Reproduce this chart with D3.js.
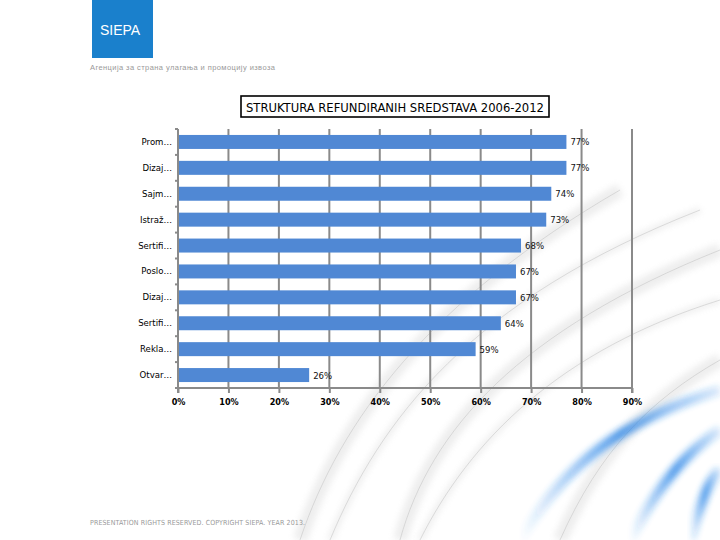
<!DOCTYPE html>
<html><head><meta charset="utf-8">
<script src="https://cdn.jsdelivr.net/npm/d3@7"></script>
<style>html,body{margin:0;padding:0;background:#fff;}svg{display:block;}</style>
</head><body>
<svg id="c" width="720" height="540"></svg>
<script>
const categories = ["Prom…","Dizaj…","Sajm…","Istraž…","Sertifi…","Poslo…","Dizaj…","Sertifi…","Rekla…","Otvar…"];
const values = [77,77,74,73,68,67,67,64,59,26];
const xTicks = [0,10,20,30,40,50,60,70,80,90];
const title = "STRUKTURA REFUNDIRANIH SREDSTAVA 2006-2012";
const subtitle = "Агенција за стрaна улагања и промоцију извоза";
const footer = "PRESENTATION RIGHTS RESERVED. COPYRIGHT SIEPA. YEAR 2013.";

(function(){
const svg = d3.select("#c");
const defs = svg.append("defs");
const bl = defs.append("linearGradient").attr("id","blueG").attr("x1","0").attr("y1","0").attr("x2","1").attr("y2","0");
bl.append("stop").attr("offset","0").attr("stop-color","#1e7fe6").attr("stop-opacity",0);
bl.append("stop").attr("offset","0.5").attr("stop-color","#1e7fe6").attr("stop-opacity",0.9);
bl.append("stop").attr("offset","1").attr("stop-color","#1e7fe6").attr("stop-opacity",0.2);
defs.append("filter").attr("id","blur").append("feGaussianBlur").attr("stdDeviation",3);

// decorative background swooshes
const deco = svg.append("g");
const grayPaths = [
  "M300,540 C340,420 430,300 620,190",
  "M330,540 C380,420 470,300 700,210",
  "M400,540 C430,430 520,330 720,250",
  "M420,540 C470,440 560,350 720,300",
  "M560,540 C600,450 650,400 720,360"
];
grayPaths.forEach((p,i)=>{
  deco.append("path").attr("d",p).attr("fill","none").attr("stroke","#cfcfcf")
    .attr("stroke-width", i%2===0?14:6).attr("opacity",0.35).attr("filter","url(#blur)");
  deco.append("path").attr("d",p).attr("fill","none").attr("stroke","#bbb")
    .attr("stroke-width",0.8).attr("opacity",0.6);
});
["M520,540 C560,470 620,420 720,390","M630,540 C660,480 690,450 720,430","M690,540 C700,500 710,480 720,470"].forEach(p=>{
  deco.append("path").attr("d",p).attr("fill","none").attr("stroke","url(#blueG)")
    .attr("stroke-width",10).attr("opacity",0.85).attr("filter","url(#blur)");
});

// logo
svg.append("rect").attr("x",92).attr("y",0).attr("width",61).attr("height",58).attr("fill","#1a80cc");
svg.append("text").attr("x",100).attr("y",35).attr("fill","#fff")
  .style("font-family","Liberation Sans, Arial, sans-serif").style("font-size","14px").text("SIEPA");
svg.append("text").attr("x",90).attr("y",70).attr("fill","#999")
  .style("font-family","Liberation Sans, Arial, sans-serif").style("font-size","7.5px")
  .attr("textLength",185).text(subtitle);

// title box
svg.append("rect").attr("x",241).attr("y",96).attr("width",308).attr("height",21)
  .attr("fill","#fff").attr("stroke","#000").attr("stroke-width",1.6);
svg.append("text").attr("x",395).attr("y",111.5).attr("text-anchor","middle")
  .style("font-family","DejaVu Sans Condensed, Liberation Sans, sans-serif").style("font-size","12px")
  .attr("textLength",298).attr("lengthAdjust","spacingAndGlyphs").text(title);

// chart
const pL = 178, pR = 632, pT = 129, pB = 388;
const x = d3.scaleLinear().domain([0,90]).range([pL,pR]);
const y = d3.scaleBand().domain(d3.range(categories.length)).range([pT,pB]).paddingInner(0.46).paddingOuter(0.23);
const g = svg.append("g");

// gridlines
g.selectAll("line.grid").data(xTicks.slice(1)).join("line")
  .attr("x1",d=>x(d)).attr("x2",d=>x(d)).attr("y1",pT).attr("y2",pB)
  .attr("stroke","#8a8a8a").attr("stroke-width",2);

// bars
g.selectAll("rect.bar").data(values).join("rect")
  .attr("x",x(0)).attr("y",(d,i)=>y(i)).attr("width",d=>x(d)-x(0)).attr("height",y.bandwidth())
  .attr("fill","#5088d4");

// value labels
g.selectAll("text.val").data(values).join("text")
  .attr("x",d=>x(d)+4).attr("y",(d,i)=>y(i)+y.bandwidth()/2+3.5)
  .style("font-family","DejaVu Sans Condensed, sans-serif").style("font-size","9.5px").attr("fill","#111")
  .text(d=>d+"%");

// x axis
const xAxis = d3.axisBottom(x).tickValues(xTicks).tickFormat(d=>d+"%").tickSize(5).tickPadding(6);
const xa = svg.append("g").attr("transform",`translate(0,${pB})`).call(xAxis);
xa.select(".domain").attr("stroke","#8a8a8a").attr("stroke-width",2).attr("d",`M${pL},5V0H${pR}V5`);
xa.selectAll(".tick line").attr("stroke","#8a8a8a").attr("stroke-width",2);
xa.selectAll(".tick text").style("font-family","DejaVu Sans Condensed, sans-serif").style("font-size","9px")
  .style("font-weight","bold").attr("fill","#000");

// y axis
const yAxis = d3.axisLeft(y).tickFormat(i=>categories[i]).tickSize(0).tickPadding(6);
const ya = svg.append("g").attr("transform",`translate(${pL},0)`).call(yAxis);
ya.select(".domain").attr("stroke","#8a8a8a").attr("stroke-width",2).attr("d",`M0,${pT}V${pB}`);
ya.selectAll(".tick text").style("font-family","DejaVu Sans Condensed, sans-serif").style("font-size","9.5px").attr("fill","#000");
const n = categories.length;
ya.selectAll("line.sep").data(d3.range(n+1)).join("line")
  .attr("x1",-3).attr("x2",0).attr("y1",i=>pT+i*(pB-pT)/n).attr("y2",i=>pT+i*(pB-pT)/n)
  .attr("stroke","#8a8a8a").attr("stroke-width",2);

// footer
svg.append("text").attr("x",90).attr("y",525).attr("fill","#999")
  .style("font-family","DejaVu Sans Condensed, sans-serif").style("font-size","7px")
  .attr("textLength",215).text(footer);
})();
</script>
</body></html>
